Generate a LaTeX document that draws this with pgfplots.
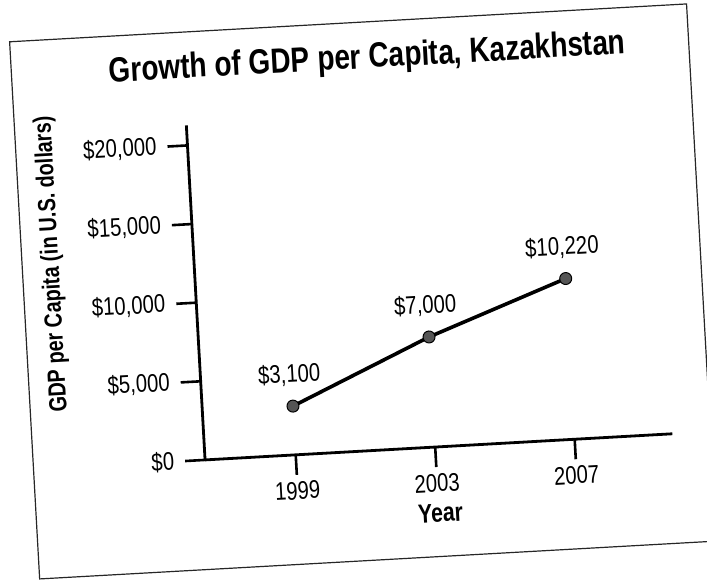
\documentclass[border=0pt]{standalone}
\usepackage{fontspec}
\setmainfont{Liberation Sans}[FakeStretch=0.8]
\usepackage{pgfplots}
\pgfplotsset{compat=1.18}
\definecolor{dotgray}{HTML}{555555}
\begin{document}
\begin{tikzpicture}
% the scanned page is tilted a little, so the whole chart is turned
\begin{scope}[transform canvas={rotate around={3.2:(176.5pt,144.5pt)}}]
\draw[line width=0.6pt, black!85] (12pt,9pt) rectangle (351pt,278pt);
\begin{axis}[
  at={(97.9pt,63.8pt)}, anchor=south west,
  scale only axis, width=234pt, height=167.5pt,
  xmin=1996.4, xmax=2009.8, ymin=0, ymax=21270,
  axis lines*=left,
  axis line style={line width=1.4pt, black},
  xtick={1999,2003,2007},
  ytick={0,5000,10000,15000,20000},
  scaled y ticks=false,
  tick align=outside, major tick length=10pt,
  tick style={line width=1.3pt, black},
  /pgf/number format/assume math mode=true,
  x tick label style={/pgf/number format/1000 sep={}},
  yticklabel={\$\pgfmathprintnumber[1000 sep={,}]{\tick}},
  y tick label style={xshift=-2pt},
  tick label style={font=\fontsize{12.7}{14}\selectfont},
  title={Growth of GDP per Capita, Kazakhstan},
  title style={at={(0.394,1.132)}, anchor=center,
    font=\bfseries\fontsize{17.5}{20}\selectfont},
  xlabel={Year},
  xlabel style={at={(0.496,-0.197)}, anchor=center,
    font=\bfseries\fontsize{13.3}{15}\selectfont},
  ylabel={GDP per Capita (in U.S. dollars)},
  ylabel style={at={(-0.303,0.609)}, anchor=center, rotate=0,
    font=\bfseries\fontsize{12.4}{14}\selectfont},
  clip=false,
]
\addplot[line width=1.8pt, black, mark=*, mark size=3pt,
  mark options={fill=dotgray, draw=black, line width=0.5pt},
  nodes near coords, point meta=explicit symbolic,
  nodes near coords style={font=\fontsize{12.7}{14}\selectfont,
    anchor=base, inner sep=0pt, yshift=11.8pt, xshift=-1pt}]
  coordinates {(1999,3100)[\$3,100] (2003,7000)[\$7,000] (2007,10220)[\$10,220]};
\end{axis}
\end{scope}
\pgfresetboundingbox
\useasboundingbox (0,0) rectangle (353.5pt,289.5pt);
\end{tikzpicture}
\end{document}
